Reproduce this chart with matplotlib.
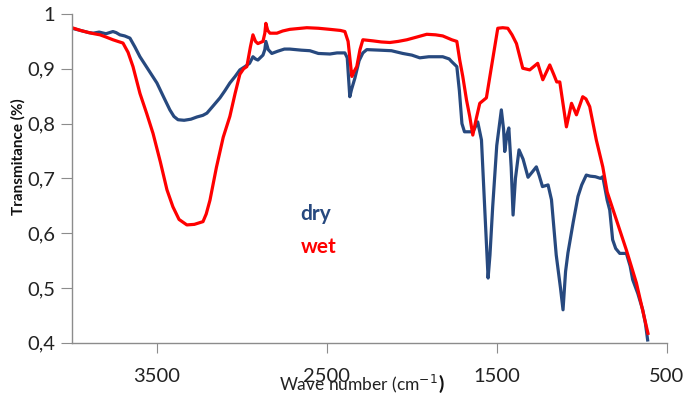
import matplotlib

matplotlib.use("Agg")
import matplotlib.pyplot as plt
from matplotlib.ticker import FuncFormatter, FixedLocator

# FTIR transmittance spectra, wavenumber (cm-1) vs transmittance
dry_wn = [4000, 3950, 3900, 3876, 3840, 3800, 3759, 3740, 3718, 3690, 3659,
          3630, 3600, 3550, 3500, 3460, 3424, 3400, 3376, 3340, 3300, 3265,
          3230, 3206, 3170, 3129, 3100, 3071, 3040, 3012, 2982, 2955, 2935,
          2920, 2906, 2876, 2865, 2859, 2845, 2824, 2790, 2750, 2718, 2650,
          2600, 2550, 2482, 2440, 2394, 2380, 2365, 2355, 2335, 2310, 2288,
          2265, 2188, 2120, 2053, 2000, 1953, 1900, 1818, 1780, 1765, 1735,
          1720, 1705, 1690, 1671, 1640, 1612, 1590, 1570, 1551, 1540, 1524,
          1500, 1473, 1460, 1453, 1440, 1429, 1415, 1404, 1390, 1369, 1345,
          1316, 1290, 1267, 1250, 1231, 1198, 1178, 1150, 1125, 1110, 1095,
          1081, 1050, 1022, 1000, 973, 950, 920, 890, 876, 865, 850, 835, 818,
          800, 776, 737, 715, 700, 670, 641, 625, 612]
dry_t = [0.974, 0.970, 0.966, 0.965, 0.967, 0.964, 0.968, 0.966, 0.962, 0.960,
         0.956, 0.940, 0.922, 0.898, 0.874, 0.848, 0.825, 0.813, 0.807, 0.806,
         0.808, 0.812, 0.815, 0.819, 0.832, 0.847, 0.860, 0.874, 0.886, 0.898,
         0.904, 0.910, 0.922, 0.918, 0.916, 0.925, 0.935, 0.950, 0.935, 0.928,
         0.932, 0.936, 0.936, 0.934, 0.933, 0.928, 0.927, 0.929, 0.929, 0.920,
         0.849, 0.862, 0.883, 0.915, 0.929, 0.935, 0.934, 0.933, 0.928, 0.925,
         0.920, 0.922, 0.922, 0.918, 0.913, 0.904, 0.860, 0.800, 0.785, 0.785,
         0.785, 0.803, 0.770, 0.640, 0.518, 0.560, 0.648, 0.760, 0.825, 0.790,
         0.749, 0.780, 0.792, 0.720, 0.633, 0.700, 0.752, 0.735, 0.702, 0.712,
         0.721, 0.705, 0.685, 0.688, 0.661, 0.560, 0.500, 0.460, 0.530, 0.564,
         0.620, 0.667, 0.688, 0.706, 0.704, 0.703, 0.700, 0.703, 0.685, 0.660,
         0.642, 0.588, 0.572, 0.563, 0.563, 0.540, 0.515, 0.490, 0.460, 0.435,
         0.405]

wet_wn = [4000, 3950, 3900, 3870, 3835, 3800, 3759, 3730, 3700, 3670, 3641,
          3600, 3560, 3523, 3480, 3441, 3406, 3370, 3324, 3280, 3229, 3210,
          3188, 3150, 3110, 3071, 3040, 3012, 2990, 2971, 2950, 2935, 2920,
          2906, 2876, 2865, 2859, 2848, 2835, 2794, 2760, 2718, 2618, 2550,
          2482, 2420, 2394, 2375, 2353, 2340, 2324, 2305, 2288, 2229, 2180,
          2129, 2080, 2029, 1970, 1912, 1860, 1818, 1780, 1765, 1735, 1718,
          1700, 1678, 1659, 1641, 1620, 1600, 1561, 1531, 1494, 1465, 1435,
          1410, 1384, 1347, 1306, 1259, 1229, 1188, 1165, 1147, 1129, 1090,
          1060, 1031, 994, 975, 953, 914, 876, 850, 818, 737, 678, 619, 610]
wet_t = [0.975, 0.970, 0.966, 0.964, 0.962, 0.958, 0.953, 0.950, 0.947, 0.930,
         0.904, 0.855, 0.818, 0.782, 0.730, 0.679, 0.648, 0.625, 0.615, 0.616,
         0.621, 0.635, 0.660, 0.720, 0.775, 0.813, 0.855, 0.890, 0.900, 0.904,
         0.940, 0.962, 0.950, 0.946, 0.950, 0.965, 0.983, 0.970, 0.965, 0.965,
         0.969, 0.972, 0.975, 0.974, 0.972, 0.970, 0.968, 0.950, 0.886, 0.895,
         0.904, 0.935, 0.953, 0.951, 0.949, 0.948, 0.950, 0.953, 0.958, 0.963,
         0.962, 0.960, 0.955, 0.953, 0.950, 0.916, 0.886, 0.843, 0.813, 0.779,
         0.810, 0.837, 0.847, 0.904, 0.974, 0.975, 0.974, 0.962, 0.946, 0.901,
         0.898, 0.910, 0.880, 0.907, 0.890, 0.876, 0.876, 0.794, 0.837, 0.816,
         0.849, 0.845, 0.831, 0.770, 0.721, 0.675, 0.645, 0.569, 0.509, 0.429,
         0.417]

x_ticks = [3500, 2500, 1500, 500]
y_ticks = [0.4, 0.5, 0.6, 0.7, 0.8, 0.9, 1.0]

DRY = "#27497f"
WET = "#ff0000"
AXIS = "#8c8c8c"
FONT = "Lato"

fig = plt.figure(figsize=(6.87, 3.97), dpi=100)
ax = fig.add_axes([0.1048, 0.1368, 0.8656, 0.8279])

ax.plot(dry_wn, dry_t, color=DRY, lw=2.3, solid_joinstyle="round")
ax.plot(wet_wn, wet_t, color=WET, lw=2.3, solid_joinstyle="round")

ax.set_xlim(4000, 500)
ax.set_ylim(0.4, 1.0)
ax.xaxis.set_major_locator(FixedLocator(x_ticks))
ax.yaxis.set_major_locator(FixedLocator(y_ticks))


def comma(v, pos):
    s = f"{v:.1f}".rstrip("0").rstrip(".")
    return s.replace(".", ",")


ax.yaxis.set_major_formatter(FuncFormatter(comma))

for side in ("top", "right"):
    ax.spines[side].set_visible(False)
for side in ("left", "bottom"):
    ax.spines[side].set_color(AXIS)
    ax.spines[side].set_linewidth(1.0)

ax.tick_params(axis="both", colors=AXIS, labelcolor="#222222",
               labelsize=14.5, direction="out")
ax.tick_params(axis="x", length=7, pad=11)
ax.tick_params(axis="y", length=8, pad=4)
for lab in ax.get_xticklabels() + ax.get_yticklabels():
    lab.set_fontfamily(FONT)

# series names written inside the plot area
ax.text(2655, 0.635, "dry", color=DRY, fontsize=15, fontweight="bold",
        family=FONT, ha="left", va="center")
ax.text(2655, 0.575, "wet", color=WET, fontsize=15, fontweight="bold",
        family=FONT, ha="left", va="center")

fig.text(0.026, 0.605, "Transmitance (%)", rotation=90, fontsize=11,
         fontweight="bold", family=FONT, ha="center", va="center",
         color="#111111")
fig.text(0.637, 0.034, "Wave number (cm$^{-1}$", fontsize=12.5, family=FONT,
         ha="right", va="center", color="#222222")
fig.text(0.638, 0.034, ")", fontsize=14, fontweight="bold", family=FONT,
         ha="left", va="center", color="#111111")

fig.savefig("out.png", dpi=100)
